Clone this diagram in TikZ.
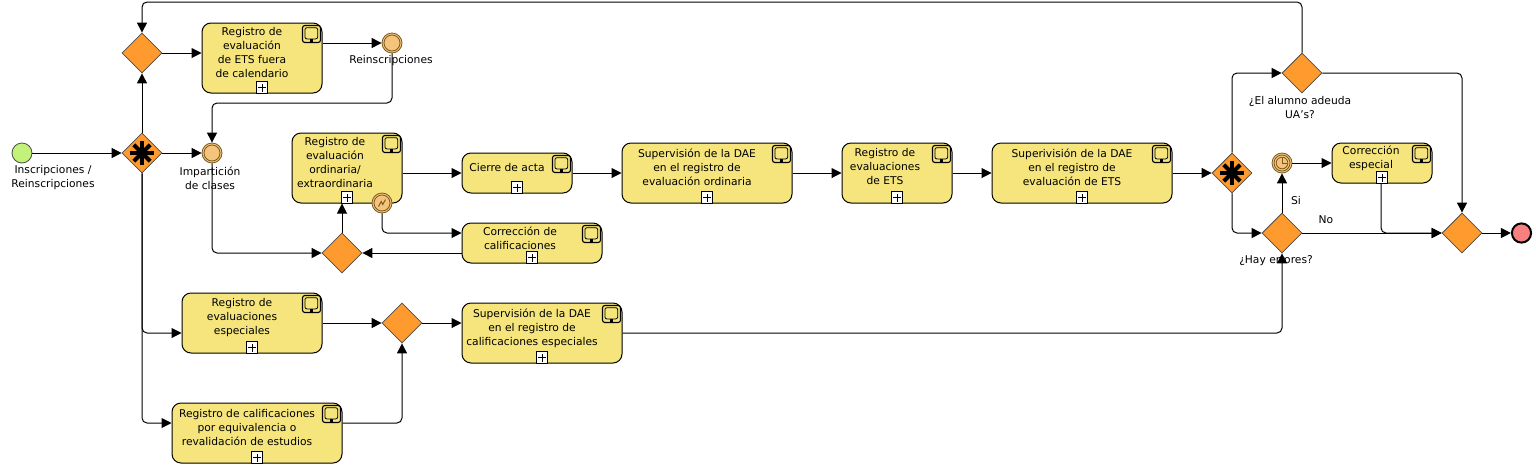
\documentclass[tikz,border=0pt]{standalone}
\usepackage{fontspec}
\setmainfont{DejaVu Sans}
\usetikzlibrary{shapes.geometric,arrows.meta}
\definecolor{taskfill}{HTML}{F5E57C}
\definecolor{gatefill}{HTML}{FF9A2E}
\definecolor{evfill}{HTML}{F5C47C}
\definecolor{startfill}{HTML}{C3F27A}
\definecolor{endfill}{HTML}{F98080}
\definecolor{evline}{HTML}{7A5A20}
\tikzset{
  taskbox/.style={draw=black,line width=.5pt,rounded corners=4.5pt,fill=taskfill,inner sep=0pt},
  gate/.style={diamond,aspect=1,draw=black!70,line width=.4pt,fill=gatefill,inner sep=0pt,minimum width=20pt,minimum height=20pt},
  startev/.style={circle,draw=black!70,line width=.4pt,fill=startfill,inner sep=0pt,minimum size=10pt},
  endev/.style={circle,draw=black,line width=1pt,fill=endfill,inner sep=0pt,minimum size=9.6pt},
  midev/.style={circle,draw=evline,line width=.4pt,fill=evfill,inner sep=0pt,minimum size=10pt},
  flow/.style={draw=black,line width=.5pt,rounded corners=2.5pt,-{Triangle[length=5pt,width=5pt]}},
  txt/.style={inner sep=0pt,align=center,yshift=-0.5pt,font=\fontsize{5.35}{7}\selectfont,text=black},
  plusbox/.style={draw=black,line width=.4pt,fill=white,inner sep=0pt,minimum size=5.8pt},
}
% name, cx, cy, w, h (pixels)
\newcommand{\taskat}[5]{\node[taskbox,minimum width=#4*0.5pt,minimum height=#5*0.5pt] (#1) at (#2,#3) {};}
% icons and expand marker of a task
\newcommand{\taskmarks}[1]{%
  \draw[line width=.55pt,rounded corners=1.2pt,fill=taskfill] ([xshift=-10pt,yshift=-1.5pt]#1.north east) rectangle ([xshift=-1pt,yshift=-10pt]#1.north east);
  \draw[line width=.4pt,rounded corners=1pt] ([xshift=-8.8pt,yshift=-2.6pt]#1.north east) rectangle ([xshift=-2.4pt,yshift=-8.2pt]#1.north east);
  \fill[black] ([xshift=-6.2pt,yshift=-8.4pt]#1.north east) rectangle ([xshift=-4.8pt,yshift=-9.8pt]#1.north east);
  \node[plusbox] (#1plus) at ([yshift=3pt]#1.south) {};
  \draw[line width=.4pt] ([xshift=-2pt]#1plus.center) -- ([xshift=2pt]#1plus.center) ([yshift=-2pt]#1plus.center) -- ([yshift=2pt]#1plus.center);
}
\newcommand{\starmark}[1]{%
  \foreach \a in {0,45,90,135}{\draw[line width=2pt,black] (#1.center) ++(\a:5.8pt) -- ++(\a+180:11.6pt);}
}
\begin{document}
\begin{tikzpicture}[x=0.5pt,y=-0.5pt]
\useasboundingbox[fill=white] (0,0) rectangle (1536,467);
% tasks
\taskat{Ta}{262}{58}{120}{70}
\taskat{Tb}{347}{168}{110}{70}
\taskat{Tc}{517}{173}{110}{40}
\taskat{Td}{532}{243}{140}{40}
\taskat{Te}{707}{173}{170}{60}
\taskat{Tf}{897}{173}{110}{60}
\taskat{Tg}{1082}{173}{180}{60}
\taskat{Th}{1382}{163}{100}{40}
\taskat{Ti}{252}{323}{140}{60}
\taskat{Tj}{542}{333}{160}{60}
\taskat{Tk}{257}{433}{170}{60}
% gateways
\node[gate] (Ga) at (142,53) {};
\node[gate] (Gb) at (142,153) {};
\node[gate] (Gc) at (342,253) {};
\node[gate] (Gd) at (402,323) {};
\node[gate] (Ge) at (1232,173) {};
\node[gate] (Gf) at (1302,73) {};
\node[gate] (Gg) at (1282,233) {};
\node[gate] (Gh) at (1462,233) {};
\starmark{Gb}
\starmark{Ge}
% events
\node[startev] (St) at (22,153) {};
\node[endev] (En) at (1521.5,233) {};
\node[midev] (Ea) at (212,153) {};
\node[midev] (Eb) at (392,43) {};
\node[midev] (Ec) at (382,203) {};
\node[midev] (Ed) at (1282,163) {};
\foreach \n in {Ea,Eb,Ec,Ed}{\draw[evline,line width=.4pt] (\n.center) circle (4pt);}
\draw[evline,line width=.4pt] (Ed.center) circle (2.9pt);
\draw[evline,line width=.4pt] (Ed.center) -- ++(0,-5) (Ed.center) -- ++(5,0);
\draw[evline,line width=.5pt] ([shift={(-3.5,3.5)}]Ec.center) -- ([shift={(-.8,-1.5)}]Ec.center) -- ([shift={(.8,1.5)}]Ec.center) -- ([shift={(3.5,-3.5)}]Ec.center);
% helper points
\coordinate (bendA) at (212,103);
\coordinate (bendB) at (212,253);
\coordinate (bendC) at (382,233);
\coordinate (bendD) at (1232,73);
\coordinate (bendE) at (1232,233);
\coordinate (bendF) at (1462,73);
\coordinate (bendG) at (1302,2);
\coordinate (bendH) at (142,2);
\coordinate (bendI) at (142,333);
\coordinate (bendJ) at (142,423);
\coordinate (bendK) at (402,423);
\coordinate (bendL) at (1282,333);
\coordinate (bendM) at (1381,233);
% connectors
\draw[flow] (St.east) -- (Gb.west);
\draw[flow] (Gb.north) -- (Ga.south);
\draw[flow] (Gb.east) -- (Ea.west);
\draw[flow] (Ga.east) -- (Ta.west |- Ga.east);
\draw[flow] (Ta.east |- Eb.west) -- (Eb.west);
\draw[flow] (Eb.south) -- (Eb.south |- bendA) -- (bendA) -- (Ea.north);
\draw[flow] (Ea.south) -- (bendB) -- (Gc.west);
\draw[flow] (Gc.north) -- (Gc.north |- Tb.south);
\draw[flow] (Td.west |- Gc.east) -- (Gc.east);
\draw[flow] (Tb.east |- Tc.west) -- (Tc.west);
\draw[flow] (Ec.south) -- (bendC) -- (Td.west |- bendC);
\draw[flow] (Tc.east) -- (Te.west);
\draw[flow] (Te.east) -- (Tf.west);
\draw[flow] (Tf.east) -- (Tg.west);
\draw[flow] (Tg.east) -- (Ge.west);
\draw[flow] (Ge.north) -- (bendD) -- (Gf.west);
\draw[flow] (Ge.south) -- (bendE) -- (Gg.west);
\draw[flow] (Gg.north) -- (Ed.south);
\draw[flow] (Ed.east) -- (Th.west |- Ed.east);
\draw[flow] (Gg.east) -- (Gh.west);
\draw[flow] (Th.south) ++(-1,0) -- (bendM) -- (Gh.west);
\draw[flow] (Gf.east) -- (bendF) -- (Gh.north);
\draw[flow] (Gh.east) -- (En.west);
\draw[flow] (Gf.north) -- (bendG) -- (bendH) -- (Ga.north);
\draw[flow] (Gb.south) -- (bendI) -- (Ti.west |- bendI);
\draw[flow] (Gb.south) -- (bendJ) -- (Tk.west |- bendJ);
\draw[flow] (Ti.east |- Gd.west) -- (Gd.west);
\draw[flow] (Tk.east |- bendK) -- (bendK) -- (Gd.south);
\draw[flow] (Gd.east) -- (Tj.west |- Gd.east);
\draw[flow] (Tj.east |- bendL) -- (bendL) -- (Gg.south);
% task marks
\foreach \n in {Ta,Tb,Tc,Td,Te,Tf,Tg,Th,Ti,Tj,Tk}{\taskmarks{\n}}
% task texts
\node[txt] (La) at (252,52) {Registro de\\evaluación\\de ETS fuera\\de calendario};
\node[txt] (Lb) at (335,162) {Registro de\\evaluación\\ordinaria/\\extraordinaria};
\node[txt] (Lc) at (507,167) {Cierre de acta};
\node[txt] (Ld) at (520,237) {Corrección de\\calificaciones};
\node[txt] (Le) at (697,166) {Supervisión de la DAE\\en el registro de\\evaluación ordinaria};
\node[txt] (Lf) at (885,166) {Registro de\\evaluaciones\\de ETS};
\node[txt] (Lg) at (1072,166) {Superivisión de la DAE\\en el registro de\\evaluación de ETS};
\node[txt] (Lh) at (1371,157) {Corrección\\especial};
\node[txt] (Li) at (242,317) {Registro de\\evaluaciones\\especiales};
\node[txt] (Lj) at (532,327) {Supervisión de la DAE\\en el registro de\\calificaciones especiales};
\node[txt] (Lk) at (247,427) {Registro de calificaciones\\por equivalencia o\\revalidación de estudios};
% free labels
\node[txt] (Ma) at (53,177) {Inscripciones /\\Reinscripciones};
\node[txt] (Mb) at (210,177) {Impartición\\de clases};
\node[txt] (Mc) at (391,60) {Reinscripciones};
\node[txt] (Md) at (1300,106.5) {¿El alumno adeuda\\UA's?};
\node[txt] (Me) at (1276,260) {¿Hay errores?};
\node[txt] (Mf) at (1296,200) {Si};
\node[txt] (Mg) at (1326,219) {No};
\end{tikzpicture}
\end{document}
